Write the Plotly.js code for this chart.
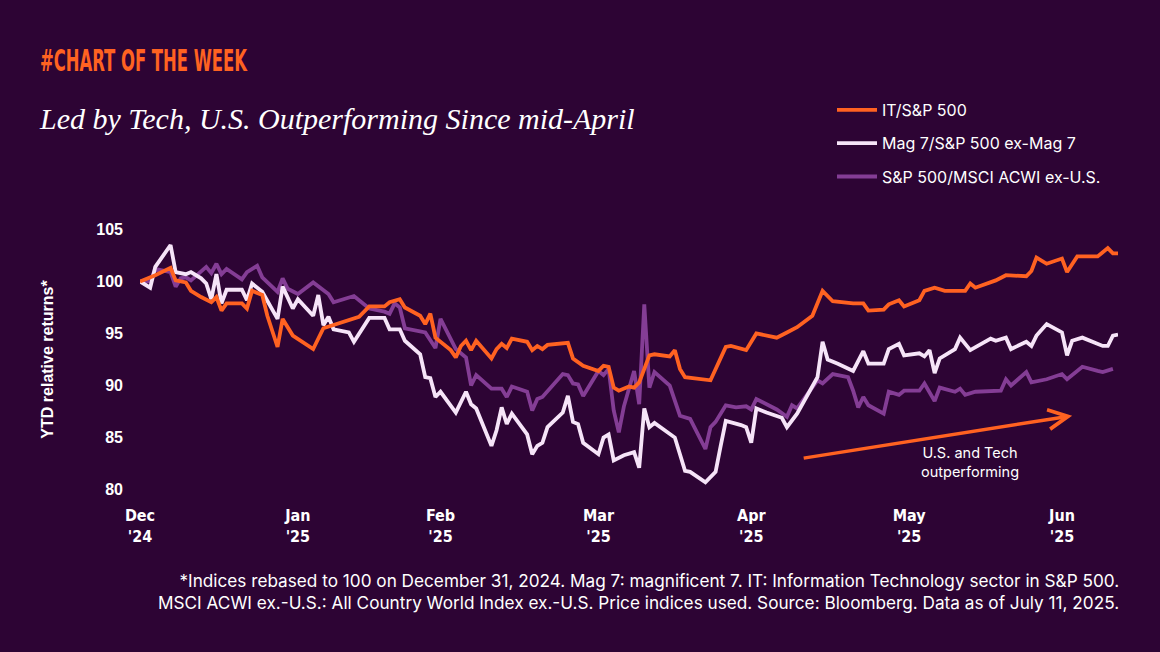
<!DOCTYPE html>
<html>
<head>
<meta charset="utf-8">
<script src="https://cdn.plot.ly/plotly-3.0.1.min.js"></script>
<style>
  html, body { margin: 0; padding: 0; background: #2d0434; }
  #chart { width: 1160px; height: 652px; }
</style>
</head>
<body>
<div id="chart"></div>
<script>
// ---- Data ----
const itDates = ['2024-12-31','2025-01-03','2025-01-06','2025-01-07','2025-01-09','2025-01-10','2025-01-12','2025-01-14','2025-01-15','2025-01-16','2025-01-17','2025-01-20','2025-01-21','2025-01-22','2025-01-24','2025-01-25','2025-01-27','2025-01-28','2025-01-30','2025-02-03','2025-02-05','2025-02-07','2025-02-10','2025-02-12','2025-02-14','2025-02-17','2025-02-18','2025-02-20','2025-02-21','2025-02-24','2025-02-25','2025-02-26','2025-02-27','2025-03-02','2025-03-03','2025-03-04','2025-03-05','2025-03-06','2025-03-07','2025-03-10','2025-03-11','2025-03-12','2025-03-13','2025-03-14','2025-03-17','2025-03-18','2025-03-19','2025-03-20','2025-03-21','2025-03-25','2025-03-26','2025-03-28','2025-03-31','2025-04-01','2025-04-02','2025-04-03','2025-04-04','2025-04-06','2025-04-07','2025-04-08','2025-04-10','2025-04-11','2025-04-14','2025-04-15','2025-04-16','2025-04-17','2025-04-22','2025-04-25','2025-04-26','2025-04-29','2025-05-01','2025-05-03','2025-05-05','2025-05-07','2025-05-09','2025-05-12','2025-05-14','2025-05-16','2025-05-20','2025-05-22','2025-05-23','2025-05-26','2025-05-27','2025-05-29','2025-05-30','2025-06-02','2025-06-03','2025-06-05','2025-06-07','2025-06-11','2025-06-12','2025-06-13','2025-06-17','2025-06-19','2025-06-23','2025-06-24','2025-06-25','2025-06-27','2025-06-30','2025-07-01','2025-07-03','2025-07-07','2025-07-09','2025-07-10','2025-07-11'];
const itValues = [100,100.6,101.3,100.1,99.9,99.1,98.5,98.0,98.5,97.2,97.9,97.9,97.4,99.1,98.7,96.7,93.7,96.4,94.8,93.5,95.5,95.8,96.3,96.6,97.6,97.6,98.0,98.3,97.5,96.7,95.9,96.9,94.6,93.4,92.7,93.8,94.3,93.4,94.3,92.6,93.5,94.0,93.6,94.5,94.2,93.4,93.8,93.5,93.9,94.1,92.6,91.9,91.4,91.9,91.8,89.8,89.5,89.9,89.8,90.3,92.9,93.0,92.8,93.4,91.6,90.8,90.5,93.7,93.8,93.4,95.0,94.8,94.6,95.1,95.6,96.7,99.1,98.1,97.9,97.9,97.2,97.3,97.8,98.2,97.6,98.2,99.1,99.4,99.1,99.1,99.8,99.4,100.1,100.6,100.5,101.0,102.3,101.7,102.2,100.9,102.4,102.4,103.2,102.7,102.7];

const magDates = ['2024-12-31','2025-01-02','2025-01-03','2025-01-06','2025-01-07','2025-01-09','2025-01-10','2025-01-12','2025-01-13','2025-01-14','2025-01-15','2025-01-16','2025-01-17','2025-01-20','2025-01-21','2025-01-22','2025-01-24','2025-01-27','2025-01-28','2025-01-30','2025-01-31','2025-02-03','2025-02-04','2025-02-05','2025-02-06','2025-02-07','2025-02-10','2025-02-11','2025-02-14','2025-02-17','2025-02-18','2025-02-20','2025-02-21','2025-02-24','2025-02-25','2025-02-26','2025-02-27','2025-02-28','2025-03-03','2025-03-05','2025-03-06','2025-03-07','2025-03-10','2025-03-11','2025-03-12','2025-03-13','2025-03-14','2025-03-17','2025-03-18','2025-03-19','2025-03-20','2025-03-21','2025-03-24','2025-03-25','2025-03-26','2025-03-27','2025-03-28','2025-03-31','2025-04-01','2025-04-02','2025-04-03','2025-04-05','2025-04-07','2025-04-08','2025-04-09','2025-04-10','2025-04-11','2025-04-15','2025-04-17','2025-04-18','2025-04-21','2025-04-23','2025-04-24','2025-04-25','2025-04-28','2025-04-29','2025-04-30','2025-05-01','2025-05-03','2025-05-06','2025-05-07','2025-05-09','2025-05-13','2025-05-14','2025-05-15','2025-05-17','2025-05-20','2025-05-22','2025-05-23','2025-05-26','2025-05-27','2025-05-29','2025-05-30','2025-06-02','2025-06-03','2025-06-04','2025-06-05','2025-06-06','2025-06-09','2025-06-10','2025-06-12','2025-06-14','2025-06-16','2025-06-17','2025-06-19','2025-06-20','2025-06-23','2025-06-24','2025-06-25','2025-06-27','2025-06-30','2025-07-01','2025-07-02','2025-07-04','2025-07-08','2025-07-09','2025-07-10','2025-07-11'];
const magValues = [100.0,99.4,101.4,103.5,100.9,100.7,100.9,100.3,99.8,98.3,100.7,97.9,99.2,99.2,98.2,99.8,99.0,96.4,99.5,97.4,98.3,96.7,98.7,95.8,96.6,95.4,95.1,94.2,96.5,96.5,95.4,95.4,94.3,93.0,90.8,90.7,88.9,89.4,87.4,89.4,88.2,87.8,84.2,85.7,87.9,86.3,87.3,85.3,83.4,84.2,84.5,86.0,87.4,89.0,86.5,86.3,84.5,83.4,85.0,85.3,82.8,83.3,83.6,82.1,87.8,86.0,86.4,85.0,81.8,81.7,80.7,81.7,84.2,86.6,86.2,86.0,84.5,87.8,87.4,86.9,86.0,87.3,90.8,94.2,92.5,92.1,91.4,93.3,92.1,92.1,93.5,94.0,92.9,93.1,92.8,93.4,91.2,92.6,93.5,94.6,93.4,94.0,94.5,94.3,94.6,93.5,94.2,93.8,94.8,95.9,95.1,92.9,94.3,94.6,93.8,93.8,94.8,94.9];

const spxDates = ['2024-12-31','2025-01-02','2025-01-03','2025-01-06','2025-01-07','2025-01-08','2025-01-09','2025-01-10','2025-01-13','2025-01-14','2025-01-15','2025-01-16','2025-01-17','2025-01-20','2025-01-21','2025-01-23','2025-01-24','2025-01-27','2025-01-28','2025-01-29','2025-01-31','2025-02-03','2025-02-06','2025-02-07','2025-02-11','2025-02-12','2025-02-14','2025-02-17','2025-02-18','2025-02-19','2025-02-20','2025-02-21','2025-02-25','2025-02-27','2025-02-28','2025-03-03','2025-03-05','2025-03-06','2025-03-07','2025-03-10','2025-03-12','2025-03-13','2025-03-14','2025-03-17','2025-03-18','2025-03-19','2025-03-20','2025-03-24','2025-03-25','2025-03-26','2025-03-27','2025-03-28','2025-03-31','2025-04-01','2025-04-02','2025-04-03','2025-04-04','2025-04-05','2025-04-07','2025-04-08','2025-04-09','2025-04-10','2025-04-11','2025-04-14','2025-04-16','2025-04-18','2025-04-21','2025-04-22','2025-04-23','2025-04-25','2025-04-27','2025-04-29','2025-04-30','2025-05-01','2025-05-03','2025-05-05','2025-05-07','2025-05-08','2025-05-09','2025-05-11','2025-05-13','2025-05-14','2025-05-16','2025-05-19','2025-05-20','2025-05-21','2025-05-22','2025-05-23','2025-05-26','2025-05-27','2025-05-29','2025-05-30','2025-06-02','2025-06-03','2025-06-05','2025-06-06','2025-06-09','2025-06-10','2025-06-11','2025-06-13','2025-06-18','2025-06-19','2025-06-20','2025-06-23','2025-06-24','2025-06-27','2025-06-30','2025-07-01','2025-07-04','2025-07-07','2025-07-08','2025-07-10'];
const spxValues = [100.0,100.0,101.2,100.9,99.5,100.3,100.4,100.1,101.4,100.8,101.7,100.7,101.2,100.2,100.9,101.5,100.4,99.0,100.3,99.3,98.8,99.9,98.8,98.0,98.6,98.2,97.4,97.1,96.9,97.9,97.5,95.5,95.1,93.6,96.4,93.5,92.7,90.0,91.0,89.7,89.7,88.9,89.9,89.4,87.6,88.7,88.9,91.1,91.0,90.2,90.1,89.0,91.4,91.0,91.6,87.6,85.5,88.0,91.4,88.2,97.8,89.8,91.3,90.0,87.1,86.8,83.9,86.0,86.5,88.1,87.9,88.0,87.7,88.7,88.2,87.7,87.0,88.1,87.8,89.2,90.5,90.2,91.1,90.8,89.5,87.9,88.9,88.1,87.3,89.4,89.1,89.5,89.5,90.2,88.5,89.8,89.4,89.7,89.1,89.4,89.5,90.6,90.0,91.3,90.3,90.6,91.1,90.6,91.8,91.4,91.3,91.6];

const seriesNames = ['IT/S&P 500', 'Mag 7/S&P 500 ex-Mag 7', 'S&P 500/MSCI ACWI ex-U.S.'];
const tickDates = ['2024-12-31','2025-01-31','2025-02-28','2025-03-31','2025-04-30','2025-05-31','2025-06-30'];
const tickLabels = ["Dec<br>'24","Jan<br>'25","Feb<br>'25","Mar<br>'25","Apr<br>'25","May<br>'25","Jun<br>'25"];
const yTicks = [80, 85, 90, 95, 100, 105];

// ---- Styles ----
const W = 1160, H = 652;
const M = {l: 140, r: 42, t: 219, b: 152};
const PW = W - M.l - M.r, PH = H - M.t - M.b;
// pixel position on the page -> paper coordinates (for text placement only)
const px = v => (v - M.l) / PW;
const py = v => (H - M.b - v) / PH;

const BG = '#2d0434';
const ORANGE = '#ff6221';
const LILAC = '#f6e4f8';
const PURPLE = '#843d95';
const SANS = 'Inter, "Noto Sans", "Liberation Sans", sans-serif';
const NARROW = '"Liberation Sans Narrow", "DejaVu Sans Condensed", "Roboto Condensed", sans-serif';
const HEADING = '#CHART OF THE WEEK';
const HEADING_LEFT = 40, HEADING_WIDTH = 207;

const traces = [
  {x: spxDates, y: spxValues, name: seriesNames[2], type: 'scatter', mode: 'lines',
   line: {color: PURPLE, width: 3.8}, legendrank: 3, legendgroup: 'c'},
  {x: magDates, y: magValues, name: seriesNames[1], type: 'scatter', mode: 'lines',
   line: {color: LILAC, width: 3.8}, legendrank: 2, legendgroup: 'b'},
  {x: itDates, y: itValues, name: seriesNames[0], type: 'scatter', mode: 'lines',
   line: {color: ORANGE, width: 3.8}, legendrank: 1, legendgroup: 'a'}
];

const layout = {
  width: W, height: H,
  paper_bgcolor: BG, plot_bgcolor: BG,
  margin: {l: M.l, r: M.r, t: M.t, b: M.b, autoexpand: false},
  font: {family: SANS, color: '#ffffff'},
  title: {
    text: 'Led by Tech, U.S. Outperforming Since mid-April',
    font: {family: '"Liberation Serif", "DejaVu Serif", serif', size: 30, color: '#ffffff', style: 'italic'},
    x: 40 / W, xanchor: 'left', xref: 'container',
    y: 1 - 118 / H, yanchor: 'middle', yref: 'container'
  },
  showlegend: true,
  legend: {
    xref: 'container', yref: 'container',
    x: 832 / W, y: 1 - 93 / H, xanchor: 'left', yanchor: 'top',
    bgcolor: 'rgba(0,0,0,0)',
    font: {family: SANS, size: 16, color: '#ffffff'},
    tracegroupgap: 9.5,
    itemwidth: 40
  },
  xaxis: {
    type: 'date',
    range: ['2024-12-31', '2025-07-11'],
    tickmode: 'array', tickvals: tickDates, ticktext: tickLabels,
    tickfont: {family: NARROW, size: 16, color: '#ffffff', weight: 'bold'},
    showgrid: false, zeroline: false, showline: false, ticks: '',
    ticklabelstandoff: 4
  },
  yaxis: {
    range: [79, 106],
    tickvals: yTicks,
    tickfont: {family: '"Liberation Sans", Arial, sans-serif', size: 16, color: '#ffffff', weight: 'bold'},
    showgrid: false, zeroline: false, showline: false, ticks: '',
    ticklabelstandoff: 16,
    title: {text: 'YTD relative returns*', font: {family: '"Liberation Sans", Arial, sans-serif', size: 16, color: '#ffffff', weight: 'bold'}, standoff: 38}
  },
  annotations: [
    {xref: 'paper', yref: 'paper', x: px(HEADING_LEFT), y: py(60),
     xanchor: 'left', yanchor: 'middle', showarrow: false,
     text: '<b>' + HEADING + '</b>',
     font: {family: NARROW, size: 31, color: ORANGE}},
    {xref: 'x', yref: 'y', axref: 'x', ayref: 'y',
     x: '2025-07-02', y: 87.1, ax: '2025-05-10', ay: 83.0,
     showarrow: true, arrowhead: 5, arrowsize: 1.1, arrowwidth: 3.5, arrowcolor: ORANGE,
     text: ''},
    {xref: 'x', yref: 'y', x: '2025-06-12', y: 82.6, xanchor: 'center', yanchor: 'middle',
     showarrow: false, align: 'center',
     text: 'U.S. and Tech<br>outperforming',
     font: {family: SANS, size: 14.5, color: '#ffffff'}},
    {xref: 'paper', yref: 'paper', x: px(1121), y: py(591),
     xanchor: 'right', yanchor: 'middle', showarrow: false, align: 'right',
     text: '*Indices rebased to 100 on December 31, 2024. Mag 7: magnificent 7. IT: Information Technology sector in S&P 500.<br>MSCI ACWI ex.-U.S.: All Country World Index ex.-U.S. Price indices used. Source: Bloomberg. Data as of July 11, 2025.',
     font: {family: SANS, size: 17.2, color: '#ffffff'}}
  ]
};

Plotly.newPlot('chart', traces, layout, {displayModeBar: false, staticPlot: true}).then(gd => {
  // The heading uses a very condensed display face; compress the real text to its width
  // and keep its left edge where the reference has it.
  const root = gd.getBoundingClientRect();
  gd.querySelectorAll('.annotation-text').forEach(t => {
    if (t.textContent === HEADING) {
      t.setAttribute('textLength', String(HEADING_WIDTH));
      t.setAttribute('lengthAdjust', 'spacingAndGlyphs');
      const left = t.getBoundingClientRect().left - root.left;
      const dx = HEADING_LEFT - left;
      const prev = t.getAttribute('transform') || '';
      t.setAttribute('transform', prev + ' translate(' + dx + ',0)');
    }
  });
});
</script>
</body>
</html>
